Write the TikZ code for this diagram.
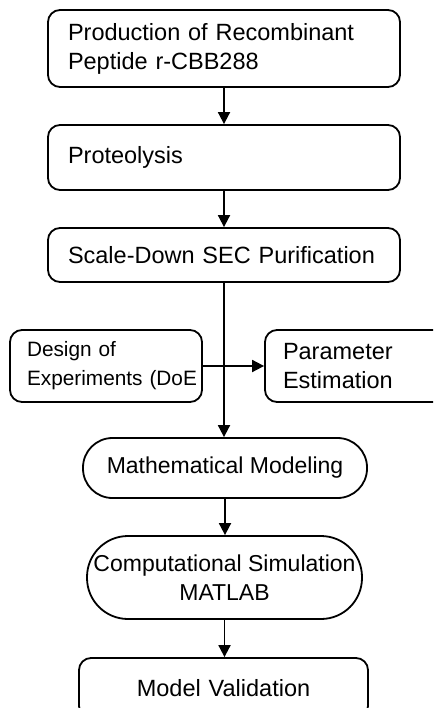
\documentclass[tikz,border=0pt]{standalone}
\usepackage{fontspec}
\setmainfont{Liberation Sans}
\usetikzlibrary{arrows.meta}
\begin{document}
\begin{tikzpicture}[x=1pt,y=-1pt,
  txt/.style={font=\fontsize{23.5}{29}\selectfont},
  box/.style={txt, draw, line width=1.8pt, rounded corners=12pt,
    inner xsep=20pt, inner ysep=0pt, align=left},
  pill/.style={draw, line width=1.8pt, inner sep=0pt, align=center,
    font=\fontsize{23}{29}\selectfont},
  flow/.style={line width=1.8pt, -{Triangle[length=12pt,width=12pt]}}]
\useasboundingbox (0,0) rectangle (433,708);
\clip (0,0) rectangle (433,708);

% main chain of steps
\node[box, minimum width=352pt, minimum height=77pt, text width=312pt] (prod) at (224,48.5)
  {Production of Recombinant\\Peptide r-CBB288};
\node[box, minimum width=352pt, minimum height=65pt, text width=312pt] (prot) at (224,157.5)
  {Proteolysis};
\node[box, minimum width=352pt, minimum height=54pt, text width=312pt] (purif) at (224,255)
  {Scale-Down SEC Purification};

% side branch
\node[box, inner xsep=17pt, minimum width=192pt, minimum height=72pt, text width=158pt,
  font=\fontsize{20.8}{29}\selectfont] (doe) at (106,366)
  {Design of\\Experiments~(DoE};
\node[box, inner xsep=18pt, minimum width=180pt, minimum height=72pt, text width=144pt] (param) at (355,366)
  {Parameter\\Estimation};

% modelling steps
\node[pill, rounded corners=29.5pt, minimum width=284pt, minimum height=60pt] (model) at (225,468)
  {Mathematical Modeling};
\node[pill, rounded corners=41pt, minimum width=275pt, minimum height=83pt] (sim) at (224.5,577.5)
  {Computational Simulation\\MATLAB};
\node[box, minimum width=289pt, minimum height=60pt, text width=249pt, align=center] (valid) at (223.5,688)
  {Model Validation};

% connectors
\draw[flow] (prod) -- (prot);
\draw[flow] (prot) -- (purif);
\draw[flow] (doe.east) -- (param.west);
\draw[flow] (purif.south) -- (purif.south |- model.north);
\draw[flow] (model.south) -- (sim.north -| model.south);
\draw[flow] (sim.south) -- (valid.north -| sim.south);
\end{tikzpicture}
\end{document}
